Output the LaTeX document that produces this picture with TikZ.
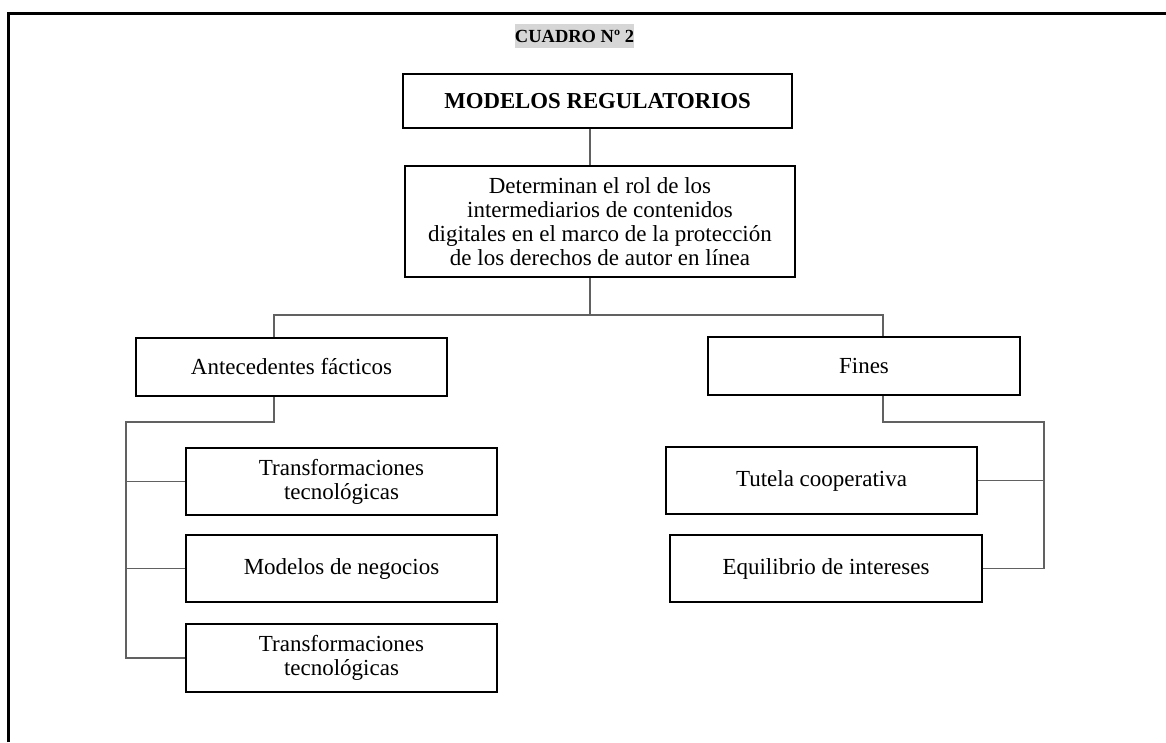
\documentclass[tikz,border=0pt]{standalone}
\usepackage{fontspec}
\setmainfont{Liberation Serif}
\begin{document}
\begin{tikzpicture}[x=1pt,y=-1pt,
  box/.style={draw=black, line width=2.4pt, inner sep=0pt, align=center,
              font=\fontsize{23}{24}\selectfont},
  link/.style={draw=black!62, line width=1.4pt},
  frame/.style={draw=black, line width=3pt}]
\useasboundingbox (0,0) rectangle (1166,742);

% outer frame (top and left sides)
\draw[frame] (8.5,742) -- (8.5,13.5) -- (1166,13.5);

% heading
\node[fill=black!16, inner sep=0pt, minimum width=115, minimum height=24,
      font=\fontsize{18.5}{20}\selectfont\bfseries] (cap) at (574.5,36) {CUADRO Nº 2};

% main boxes
\node[box, minimum width=388.5, minimum height=53.5,
      font=\fontsize{22.8}{24}\selectfont\bfseries] (T) at (597.5,101) {MODELOS REGULATORIOS};
\node[box, minimum width=389.5, minimum height=110.5] (D) at (600,221.5)
  {Determinan el rol de los\\intermediarios de contenidos\\digitales en el marco de la protección\\de los derechos de autor en línea};

\node[box, minimum width=310.5, minimum height=57.5] (A) at (291.5,367) {Antecedentes fácticos};
\node[box, minimum width=311.5, minimum height=57.5] (F) at (864,366) {Fines};

% left branch
\node[box, minimum width=310.5, minimum height=66.5] (L1) at (341.5,481.5) {Transformaciones\\tecnológicas};
\node[box, minimum width=310.5, minimum height=66.5] (L2) at (341.5,568.5) {Modelos de negocios};
\node[box, minimum width=310.5, minimum height=67.5] (L3) at (341.5,658) {Transformaciones\\tecnológicas};

% right branch
\node[box, minimum width=310.5, minimum height=66.5] (R1) at (821.5,480.5) {Tutela cooperativa};
\node[box, minimum width=311.5, minimum height=66.5] (R2) at (826,568.5) {Equilibrio de intereses};

% connector anchors
\coordinate (stem) at (590,315);
\coordinate (busL) at (274,315);
\coordinate (busR) at (883,315);
\coordinate (ka) at (274,422);
\coordinate (kb) at (126,422);
\coordinate (kc) at (883,422);
\coordinate (kd) at (1044,422);

% connectors
\draw[link] (T.south -| stem) -- (D.north -| stem);
\draw[link] (D.south -| stem) -- (stem);
\draw[link] (A.north -| busL) -- (busL) -- (busR) -- (F.north -| busR);

\draw[link] (A.south -| ka) -- (ka) -- (kb) -- (kb |- L3.west) -- (L3.west);
\draw[link] (kb |- L1.west) -- (L1.west);
\draw[link] (kb |- L2.west) -- (L2.west);

\draw[link] (F.south -| kc) -- (kc) -- (kd) -- (kd |- R2.east) -- (R2.east);
\draw[link] (kd |- R1.east) -- (R1.east);
\end{tikzpicture}
\end{document}
